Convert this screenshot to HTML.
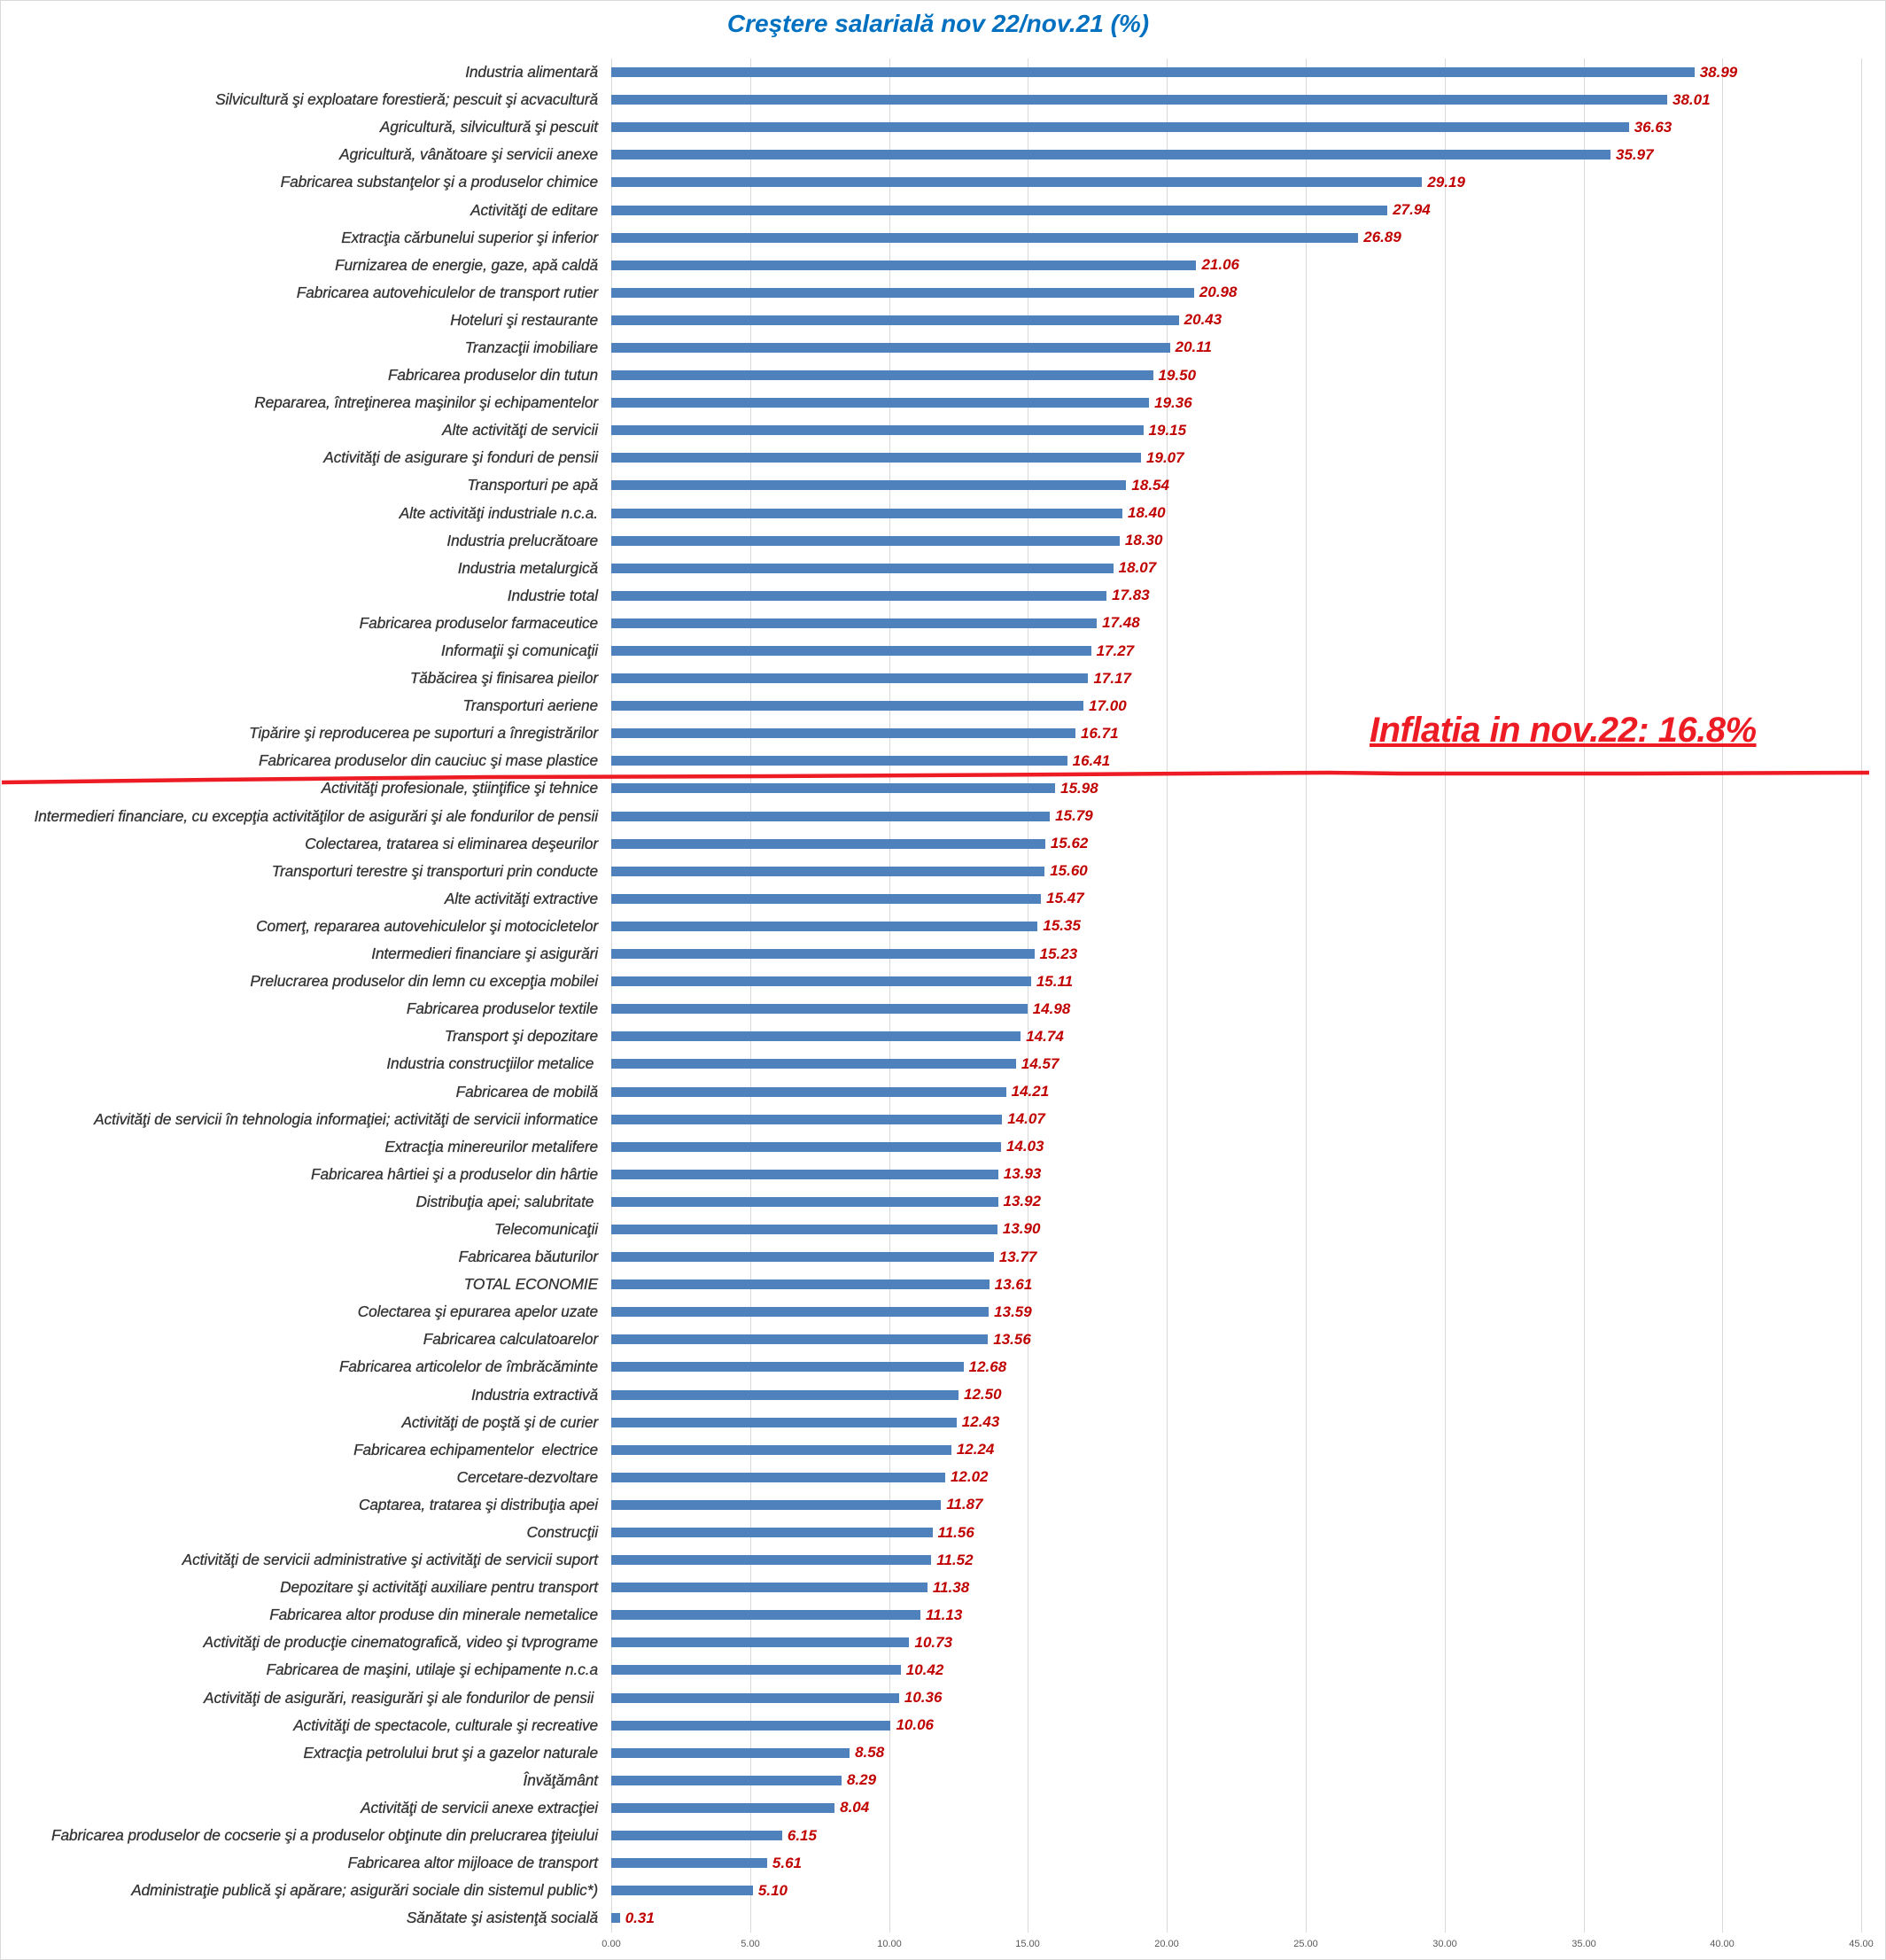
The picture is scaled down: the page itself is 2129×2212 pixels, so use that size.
<!DOCTYPE html>
<html><head><meta charset="utf-8">
<style>
html,body{margin:0;padding:0;background:#fff;}
#c{position:relative;width:2129px;height:2212px;overflow:hidden;background:#fff;font-family:"Liberation Sans",Arial,sans-serif;}
#frame{position:absolute;left:0;top:0;width:2127px;height:2210px;border:1px solid #d9d9d9;}
.title{position:absolute;top:11px;left:0;width:2118px;text-align:center;font-size:28px;font-weight:bold;font-style:italic;color:#0070C0;}
.g{position:absolute;top:66px;height:2115px;width:1px;background:#d9d9d9;}
.t{position:absolute;top:2188px;width:60px;margin-left:-30px;text-align:center;font-size:11px;color:#595959;}
#rows{position:absolute;left:0;top:66px;width:2129px;}
.r{height:31.1px;display:flex;align-items:center;}
.l{width:675px;text-align:right;font-size:17.3px;font-style:italic;color:#333;white-space:nowrap;letter-spacing:-0.1px;-webkit-text-stroke:0.3px #333;}
.b{margin-left:15px;height:11px;background:#4F81BD;}
.v{margin-left:6px;font-size:17px;font-weight:bold;font-style:italic;color:#C00000;}
.inf{position:absolute;left:1546px;top:802px;font-size:40px;font-weight:bold;font-style:italic;color:#ED1C24;text-decoration:underline;text-decoration-thickness:4px;letter-spacing:-0.5px;}
</style></head><body>
<div id="c">
<div id="frame"></div>
<div class="title">Creştere salarială nov 22/nov.21 (%)</div>
<div class="g" style="left:690px"></div><div class="g" style="left:847px"></div><div class="g" style="left:1004px"></div><div class="g" style="left:1160px"></div><div class="g" style="left:1317px"></div><div class="g" style="left:1474px"></div><div class="g" style="left:1631px"></div><div class="g" style="left:1788px"></div><div class="g" style="left:1944px"></div><div class="g" style="left:2101px"></div>
<div class="t" style="left:690px">0.00</div><div class="t" style="left:847px">5.00</div><div class="t" style="left:1004px">10.00</div><div class="t" style="left:1160px">15.00</div><div class="t" style="left:1317px">20.00</div><div class="t" style="left:1474px">25.00</div><div class="t" style="left:1631px">30.00</div><div class="t" style="left:1788px">35.00</div><div class="t" style="left:1944px">40.00</div><div class="t" style="left:2101px">45.00</div>
<div id="rows">
<div class="r"><div class="l">Industria alimentară</div><div class="b" style="width:calc(38.99*31.36px)"></div><div class="v">38.99</div></div>
<div class="r"><div class="l">Silvicultură şi exploatare forestieră; pescuit şi acvacultură</div><div class="b" style="width:calc(38.01*31.36px)"></div><div class="v">38.01</div></div>
<div class="r"><div class="l">Agricultură, silvicultură şi pescuit</div><div class="b" style="width:calc(36.63*31.36px)"></div><div class="v">36.63</div></div>
<div class="r"><div class="l">Agricultură, vânătoare şi servicii anexe</div><div class="b" style="width:calc(35.97*31.36px)"></div><div class="v">35.97</div></div>
<div class="r"><div class="l">Fabricarea substanţelor şi a produselor chimice</div><div class="b" style="width:calc(29.19*31.36px)"></div><div class="v">29.19</div></div>
<div class="r"><div class="l">Activităţi de editare</div><div class="b" style="width:calc(27.94*31.36px)"></div><div class="v">27.94</div></div>
<div class="r"><div class="l">Extracţia cărbunelui superior şi inferior</div><div class="b" style="width:calc(26.89*31.36px)"></div><div class="v">26.89</div></div>
<div class="r"><div class="l">Furnizarea de energie, gaze, apă caldă</div><div class="b" style="width:calc(21.06*31.36px)"></div><div class="v">21.06</div></div>
<div class="r"><div class="l">Fabricarea autovehiculelor de transport rutier</div><div class="b" style="width:calc(20.98*31.36px)"></div><div class="v">20.98</div></div>
<div class="r"><div class="l">Hoteluri şi restaurante</div><div class="b" style="width:calc(20.43*31.36px)"></div><div class="v">20.43</div></div>
<div class="r"><div class="l">Tranzacţii imobiliare</div><div class="b" style="width:calc(20.11*31.36px)"></div><div class="v">20.11</div></div>
<div class="r"><div class="l">Fabricarea produselor din tutun</div><div class="b" style="width:calc(19.50*31.36px)"></div><div class="v">19.50</div></div>
<div class="r"><div class="l">Repararea, întreţinerea maşinilor şi echipamentelor</div><div class="b" style="width:calc(19.36*31.36px)"></div><div class="v">19.36</div></div>
<div class="r"><div class="l">Alte activităţi de servicii</div><div class="b" style="width:calc(19.15*31.36px)"></div><div class="v">19.15</div></div>
<div class="r"><div class="l">Activităţi de asigurare şi fonduri de pensii</div><div class="b" style="width:calc(19.07*31.36px)"></div><div class="v">19.07</div></div>
<div class="r"><div class="l">Transporturi pe apă</div><div class="b" style="width:calc(18.54*31.36px)"></div><div class="v">18.54</div></div>
<div class="r"><div class="l">Alte activităţi industriale n.c.a.</div><div class="b" style="width:calc(18.40*31.36px)"></div><div class="v">18.40</div></div>
<div class="r"><div class="l">Industria prelucrătoare</div><div class="b" style="width:calc(18.30*31.36px)"></div><div class="v">18.30</div></div>
<div class="r"><div class="l">Industria metalurgică</div><div class="b" style="width:calc(18.07*31.36px)"></div><div class="v">18.07</div></div>
<div class="r"><div class="l">Industrie total</div><div class="b" style="width:calc(17.83*31.36px)"></div><div class="v">17.83</div></div>
<div class="r"><div class="l">Fabricarea produselor farmaceutice</div><div class="b" style="width:calc(17.48*31.36px)"></div><div class="v">17.48</div></div>
<div class="r"><div class="l">Informaţii şi comunicaţii</div><div class="b" style="width:calc(17.27*31.36px)"></div><div class="v">17.27</div></div>
<div class="r"><div class="l">Tăbăcirea şi finisarea pieilor</div><div class="b" style="width:calc(17.17*31.36px)"></div><div class="v">17.17</div></div>
<div class="r"><div class="l">Transporturi aeriene</div><div class="b" style="width:calc(17.00*31.36px)"></div><div class="v">17.00</div></div>
<div class="r"><div class="l">Tipărire şi reproducerea pe suporturi a înregistrărilor</div><div class="b" style="width:calc(16.71*31.36px)"></div><div class="v">16.71</div></div>
<div class="r"><div class="l">Fabricarea produselor din cauciuc şi mase plastice</div><div class="b" style="width:calc(16.41*31.36px)"></div><div class="v">16.41</div></div>
<div class="r"><div class="l">Activităţi profesionale, ştiinţifice şi tehnice</div><div class="b" style="width:calc(15.98*31.36px)"></div><div class="v">15.98</div></div>
<div class="r"><div class="l">Intermedieri financiare, cu excepţia activităţilor de asigurări şi ale fondurilor de pensii</div><div class="b" style="width:calc(15.79*31.36px)"></div><div class="v">15.79</div></div>
<div class="r"><div class="l">Colectarea, tratarea si eliminarea deşeurilor</div><div class="b" style="width:calc(15.62*31.36px)"></div><div class="v">15.62</div></div>
<div class="r"><div class="l">Transporturi terestre şi transporturi prin conducte</div><div class="b" style="width:calc(15.60*31.36px)"></div><div class="v">15.60</div></div>
<div class="r"><div class="l">Alte activităţi extractive</div><div class="b" style="width:calc(15.47*31.36px)"></div><div class="v">15.47</div></div>
<div class="r"><div class="l">Comerţ, repararea autovehiculelor şi motocicletelor</div><div class="b" style="width:calc(15.35*31.36px)"></div><div class="v">15.35</div></div>
<div class="r"><div class="l">Intermedieri financiare şi asigurări</div><div class="b" style="width:calc(15.23*31.36px)"></div><div class="v">15.23</div></div>
<div class="r"><div class="l">Prelucrarea produselor din lemn cu excepţia mobilei</div><div class="b" style="width:calc(15.11*31.36px)"></div><div class="v">15.11</div></div>
<div class="r"><div class="l">Fabricarea produselor textile</div><div class="b" style="width:calc(14.98*31.36px)"></div><div class="v">14.98</div></div>
<div class="r"><div class="l">Transport şi depozitare</div><div class="b" style="width:calc(14.74*31.36px)"></div><div class="v">14.74</div></div>
<div class="r"><div class="l">Industria construcţiilor metalice&nbsp;</div><div class="b" style="width:calc(14.57*31.36px)"></div><div class="v">14.57</div></div>
<div class="r"><div class="l">Fabricarea de mobilă</div><div class="b" style="width:calc(14.21*31.36px)"></div><div class="v">14.21</div></div>
<div class="r"><div class="l">Activităţi de servicii în tehnologia informaţiei; activităţi de servicii informatice</div><div class="b" style="width:calc(14.07*31.36px)"></div><div class="v">14.07</div></div>
<div class="r"><div class="l">Extracţia minereurilor metalifere</div><div class="b" style="width:calc(14.03*31.36px)"></div><div class="v">14.03</div></div>
<div class="r"><div class="l">Fabricarea hârtiei şi a produselor din hârtie</div><div class="b" style="width:calc(13.93*31.36px)"></div><div class="v">13.93</div></div>
<div class="r"><div class="l">Distribuţia apei; salubritate&nbsp;</div><div class="b" style="width:calc(13.92*31.36px)"></div><div class="v">13.92</div></div>
<div class="r"><div class="l">Telecomunicaţii</div><div class="b" style="width:calc(13.90*31.36px)"></div><div class="v">13.90</div></div>
<div class="r"><div class="l">Fabricarea băuturilor</div><div class="b" style="width:calc(13.77*31.36px)"></div><div class="v">13.77</div></div>
<div class="r"><div class="l">TOTAL ECONOMIE</div><div class="b" style="width:calc(13.61*31.36px)"></div><div class="v">13.61</div></div>
<div class="r"><div class="l">Colectarea şi epurarea apelor uzate</div><div class="b" style="width:calc(13.59*31.36px)"></div><div class="v">13.59</div></div>
<div class="r"><div class="l">Fabricarea calculatoarelor</div><div class="b" style="width:calc(13.56*31.36px)"></div><div class="v">13.56</div></div>
<div class="r"><div class="l">Fabricarea articolelor de îmbrăcăminte</div><div class="b" style="width:calc(12.68*31.36px)"></div><div class="v">12.68</div></div>
<div class="r"><div class="l">Industria extractivă</div><div class="b" style="width:calc(12.50*31.36px)"></div><div class="v">12.50</div></div>
<div class="r"><div class="l">Activităţi de poştă şi de curier</div><div class="b" style="width:calc(12.43*31.36px)"></div><div class="v">12.43</div></div>
<div class="r"><div class="l">Fabricarea echipamentelor&nbsp; electrice</div><div class="b" style="width:calc(12.24*31.36px)"></div><div class="v">12.24</div></div>
<div class="r"><div class="l">Cercetare-dezvoltare</div><div class="b" style="width:calc(12.02*31.36px)"></div><div class="v">12.02</div></div>
<div class="r"><div class="l">Captarea, tratarea şi distribuţia apei</div><div class="b" style="width:calc(11.87*31.36px)"></div><div class="v">11.87</div></div>
<div class="r"><div class="l">Construcţii</div><div class="b" style="width:calc(11.56*31.36px)"></div><div class="v">11.56</div></div>
<div class="r"><div class="l">Activităţi de servicii administrative şi activităţi de servicii suport</div><div class="b" style="width:calc(11.52*31.36px)"></div><div class="v">11.52</div></div>
<div class="r"><div class="l">Depozitare şi activităţi auxiliare pentru transport</div><div class="b" style="width:calc(11.38*31.36px)"></div><div class="v">11.38</div></div>
<div class="r"><div class="l">Fabricarea altor produse din minerale nemetalice</div><div class="b" style="width:calc(11.13*31.36px)"></div><div class="v">11.13</div></div>
<div class="r"><div class="l">Activităţi de producţie cinematografică, video şi tvprograme</div><div class="b" style="width:calc(10.73*31.36px)"></div><div class="v">10.73</div></div>
<div class="r"><div class="l">Fabricarea de maşini, utilaje şi echipamente n.c.a</div><div class="b" style="width:calc(10.42*31.36px)"></div><div class="v">10.42</div></div>
<div class="r"><div class="l">Activităţi de asigurări, reasigurări şi ale fondurilor de pensii&nbsp;</div><div class="b" style="width:calc(10.36*31.36px)"></div><div class="v">10.36</div></div>
<div class="r"><div class="l">Activităţi de spectacole, culturale şi recreative</div><div class="b" style="width:calc(10.06*31.36px)"></div><div class="v">10.06</div></div>
<div class="r"><div class="l">Extracţia petrolului brut şi a gazelor naturale</div><div class="b" style="width:calc(8.58*31.36px)"></div><div class="v">8.58</div></div>
<div class="r"><div class="l">Învăţământ</div><div class="b" style="width:calc(8.29*31.36px)"></div><div class="v">8.29</div></div>
<div class="r"><div class="l">Activităţi de servicii anexe extracţiei</div><div class="b" style="width:calc(8.04*31.36px)"></div><div class="v">8.04</div></div>
<div class="r"><div class="l">Fabricarea produselor de cocserie şi a produselor obţinute din prelucrarea ţiţeiului</div><div class="b" style="width:calc(6.15*31.36px)"></div><div class="v">6.15</div></div>
<div class="r"><div class="l">Fabricarea altor mijloace de transport</div><div class="b" style="width:calc(5.61*31.36px)"></div><div class="v">5.61</div></div>
<div class="r"><div class="l">Administraţie publică şi apărare; asigurări sociale din sistemul public*)</div><div class="b" style="width:calc(5.10*31.36px)"></div><div class="v">5.10</div></div>
<div class="r"><div class="l">Sănătate şi asistenţă socială</div><div class="b" style="width:calc(0.31*31.36px)"></div><div class="v">0.31</div></div>
</div>
<svg style="position:absolute;left:0;top:0" width="2129" height="2212">
<polyline points="2,883 240,880 550,877 870,876 1200,874 1500,872 1580,873 1840,873 2110,872" fill="none" stroke="#ED1C24" stroke-width="4.5"/>
</svg>
<div class="inf">Inflatia in nov.22: 16.8%</div>
</div>
</body></html>
